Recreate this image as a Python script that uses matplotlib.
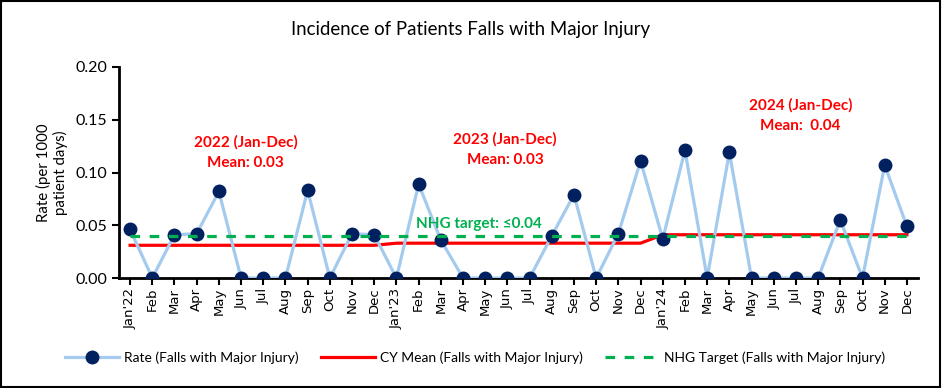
import numpy as np
import matplotlib.pyplot as plt
from matplotlib.patches import Rectangle

months = ["Jan'22", "Feb", "Mar", "Apr", "May", "Jun", "Jul", "Aug", "Sep", "Oct", "Nov", "Dec",
          "Jan'23", "Feb", "Mar", "Apr", "May", "Jun", "Jul", "Aug", "Sep", "Oct", "Nov", "Dec",
          "Jan'24", "Feb", "Mar", "Apr", "May", "Jun", "Jul", "Aug", "Sep", "Oct", "Nov", "Dec"]

rate = [0.046, 0.0, 0.041, 0.042, 0.082, 0.0, 0.0, 0.0, 0.083, 0.0, 0.042, 0.041,
        0.0, 0.089, 0.036, 0.0, 0.0, 0.0, 0.0, 0.040, 0.079, 0.0, 0.042, 0.111,
        0.037, 0.121, 0.0, 0.119, 0.0, 0.0, 0.0, 0.0, 0.055, 0.0, 0.107, 0.049]

cy_mean = [0.031] * 12 + [0.033] * 12 + [0.041] * 12
target = [0.04] * 36

x = np.arange(len(months))

fig = plt.figure(figsize=(9.42, 3.88), dpi=100)
ax = fig.add_axes([119 / 942, 110 / 388, 799 / 942, 211 / 388])

ax.plot(x, rate, color="#a4cbee", lw=2.3, marker="o", ms=9,
        mfc="#002060", mec="#002060", label="Rate (Falls with Major Injury)", zorder=3)
ax.plot(x, cy_mean, color="#ff0000", lw=2.3, label="CY Mean (Falls with Major Injury)", zorder=2)
ax.plot(x, target, color="#00b050", lw=2.3, ls=(0, (3, 3)),
        label="NHG Target (Falls with Major Injury)", zorder=4)

ax.set_xlim(-0.5, 35.5)
ax.set_ylim(0, 0.2)
ax.set_yticks(np.arange(0, 0.201, 0.05))
ax.set_yticklabels([f"{v:.2f}" for v in np.arange(0, 0.201, 0.05)], fontsize=11.5, family="Lato")
ax.set_xticks(x)
ax.set_xticklabels(months, rotation=90, fontsize=9.5)
ax.tick_params(axis="both", direction="out", length=5, width=1.5, color="black")
ax.tick_params(axis="x", pad=2)
for s in ["top", "right"]:
    ax.spines[s].set_visible(False)
for s in ["left", "bottom"]:
    ax.spines[s].set_linewidth(2)

ax.set_ylabel("Rate (per 1000\npatient days)", fontsize=10.8, family="Lato", labelpad=5,
              linespacing=1.2)

fig.text(471 / 942, 1 - 30 / 388, "Incidence of Patients Falls with Major Injury",
         ha="center", va="center", fontsize=13.4, family="Lato")

red = "#ff0000"
ax.text(5.2, 0.119, "2022 (Jan-Dec)\nMean: 0.03", color=red, fontsize=11, weight="bold",
        family="Lato", ha="center", va="center", linespacing=1.55)
ax.text(16.9, 0.122, "2023 (Jan-Dec)\nMean: 0.03", color=red, fontsize=11, weight="bold",
        family="Lato", ha="center", va="center", linespacing=1.55)
ax.text(30.2, 0.154, "2024 (Jan-Dec)\nMean:  0.04", color=red, fontsize=11, weight="bold",
        family="Lato", ha="center", va="center", linespacing=1.55)
ax.text(15.7, 0.051, "NHG target: \u22640.04", color="#00b050", fontsize=11, weight="bold",
        family=["Lato", "DejaVu Sans"], ha="center", va="center")

fig.legend(loc="center", bbox_to_anchor=(475 / 942, 1 - 358 / 388), ncol=3, frameon=False,
           prop={"family": "Lato", "size": 10}, handlelength=3.9, columnspacing=1.6,
           handletextpad=0.35)

fig.patches.append(Rectangle((0.001, 0.002), 0.997, 0.995, transform=fig.transFigure,
                             fill=False, edgecolor="black", lw=1.5))

fig.savefig("out.png", dpi=100)
